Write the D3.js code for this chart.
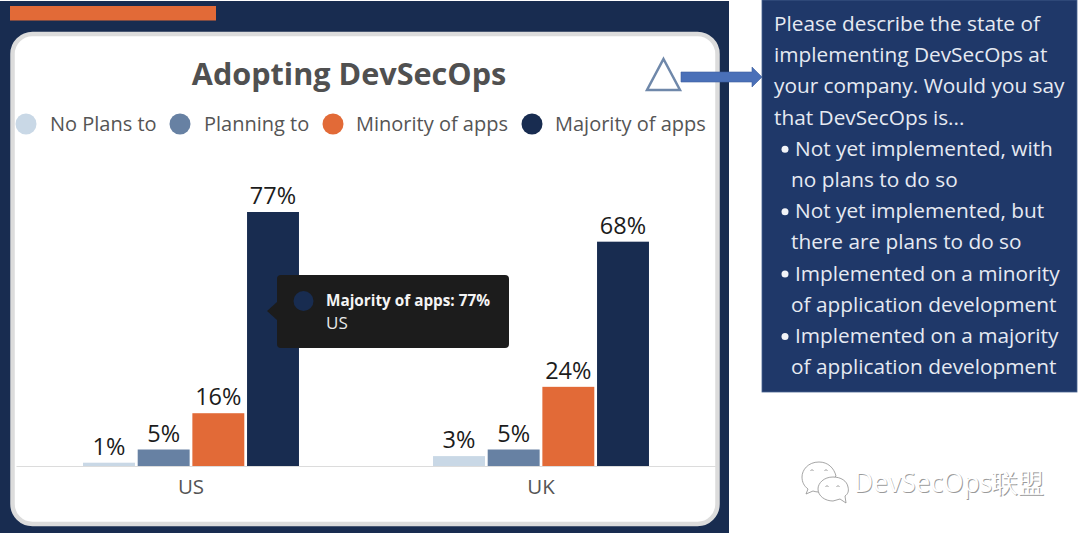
<!DOCTYPE html>
<html lang="en">
<head>
<meta charset="UTF-8">
<title>Adopting DevSecOps</title>
<script src="https://d3js.org/d3.v7.min.js"></script>
<style>
    html, body { margin: 0; padding: 0; background: #fff; }
    svg { display: block; }
    text { font-family: "Open Sans", "Noto Sans", sans-serif; }
</style>
</head>
<body>
<svg id="chart" width="1080" height="533"></svg>
<script>
// data
const regions = ['US', 'UK'];
const seriesNames = ['No Plans to', 'Planning to', 'Minority of apps', 'Majority of apps'];
const seriesColors = ['#c9d8e6', '#6781a3', '#e26a37', '#182c50'];
const usValues = [1, 5, 16, 77];
const ukValues = [3, 5, 24, 68];
const valuesByRegion = { US: usValues, UK: ukValues };

const chartTitle = 'Adopting DevSecOps';
const tooltipTitle = 'Majority of apps: 77%';
const tooltipRegion = 'US';
const panelLines = [
    'Please describe the state of',
    'implementing DevSecOps at',
    'your company. Would you say',
    'that DevSecOps is...',
    '\u2022 Not yet implemented, with',
    ' no plans to do so',
    '\u2022 Not yet implemented, but',
    ' there are plans to do so',
    '\u2022 Implemented on a minority',
    ' of application development',
    '\u2022 Implemented on a majority',
    ' of application development'
];
const watermark = 'DevSecOps联盟';

const svg = d3.select('#chart');
const navy = '#182c50';

// background blocks
svg.append('rect').attr('x', 0).attr('y', 1).attr('width', 729).attr('height', 532).attr('fill', navy);
svg.append('rect').attr('x', 10).attr('y', 6).attr('width', 206).attr('height', 14.5).attr('fill', '#e26a37');
svg.append('rect').attr('x', 12.5).attr('y', 34).attr('width', 705).attr('height', 490).attr('rx', 20)
    .attr('fill', '#fff').attr('stroke', '#dcdcdc').attr('stroke-width', 4.5);

// title
svg.append('text').attr('x', 349).attr('y', 85).attr('text-anchor', 'middle')
    .attr('font-size', 30.6).attr('font-weight', 700).attr('fill', '#505050').text(chartTitle);

// legend
const legendCircleX = [26, 180, 333, 532];
const legendTextX = [50, 204, 356, 555];
const legend = svg.append('g');
seriesNames.forEach((name, i) => {
    legend.append('circle').attr('cx', legendCircleX[i]).attr('cy', 124).attr('r', 10.5).attr('fill', seriesColors[i]);
    legend.append('text').attr('x', legendTextX[i]).attr('y', 131)
        .attr('font-size', 20).attr('fill', '#555').text(name);
});

// scales
const baseY = 466;
const x0 = d3.scaleBand().domain(regions).range([16, 716]).paddingInner(0.383).paddingOuter(0.1915);
const x1 = d3.scaleBand().domain(d3.range(seriesNames.length)).range([0, x0.bandwidth()]).paddingInner(0.05);
const y = d3.scaleLinear().domain([0, 77]).range([baseY, 212]);

// bars + value labels
const groups = svg.selectAll('.region').data(regions).enter().append('g')
    .attr('class', 'region')
    .attr('transform', d => `translate(${x0(d)},0)`);

groups.selectAll('rect')
    .data(d => valuesByRegion[d])
    .enter().append('rect')
    .attr('x', (d, i) => x1(i))
    .attr('y', d => y(d))
    .attr('width', x1.bandwidth())
    .attr('height', d => baseY - y(d))
    .attr('fill', (d, i) => seriesColors[i]);

groups.selectAll('text')
    .data(d => valuesByRegion[d])
    .enter().append('text')
    .attr('x', (d, i) => x1(i) + x1.bandwidth() / 2)
    .attr('y', d => y(d) - 8)
    .attr('text-anchor', 'middle')
    .attr('font-size', 23.5)
    .attr('fill', '#1c1c1c')
    .text(d => d + '%');

// axis
const axis = svg.append('g').attr('transform', `translate(0,${baseY})`)
    .call(d3.axisBottom(x0).tickSize(0).tickPadding(13));
axis.select('.domain').attr('stroke', '#dcdcdc').attr('stroke-width', 1.2);
axis.selectAll('text').attr('font-size', 20.5).attr('fill', '#555')
    .attr('font-family', '"Open Sans", sans-serif');

// tooltip
const tip = svg.append('g');
tip.append('path').attr('d', 'M277 302 L267 311 L277 320 Z').attr('fill', '#1c1c1c');
tip.append('rect').attr('x', 277).attr('y', 275).attr('width', 232).attr('height', 73).attr('rx', 4).attr('fill', '#1c1c1c');
tip.append('circle').attr('cx', 303.5).attr('cy', 301).attr('r', 10).attr('fill', navy);
tip.append('text').attr('x', 326).attr('y', 306).attr('font-size', 16.5).attr('font-weight', 700).attr('fill', '#f4f4f4')
    .attr('textLength', 164).attr('lengthAdjust', 'spacingAndGlyphs')
    .attr('font-family', '"Noto Sans", sans-serif').text(tooltipTitle);
tip.append('text').attr('x', 326).attr('y', 329).attr('font-size', 17).attr('fill', '#e8e8e8')
    .attr('font-family', '"Noto Sans", sans-serif').text(tooltipRegion);

// triangle + arrow
svg.append('path').attr('d', 'M663.5 59 L680 90 L647 90 Z').attr('fill', '#fff').attr('stroke', '#6f88aa').attr('stroke-width', 2.5);
svg.append('path').attr('d', 'M681 72 H752 V67 L762 77 L752 87 V82 H681 Z')
    .attr('fill', '#4a70b8').attr('stroke', '#3d5f9f').attr('stroke-width', 0.6);

// question panel
svg.append('rect').attr('x', 762).attr('y', 0).attr('width', 315).attr('height', 392)
    .attr('fill', '#1f3869').attr('stroke', '#47628f').attr('stroke-width', 0.8);
panelLines.forEach((line, i) => {
    const lineY = 31 + i * 31.2;
    const isBullet = line[0] === '\u2022';
    if (isBullet) {
        svg.append('circle').attr('cx', 785).attr('cy', lineY - 6.5).attr('r', 3.5).attr('fill', '#f2f4f8');
    }
    svg.append('text').attr('x', isBullet ? 795 : (line[0] === ' ' ? 791 : 774)).attr('y', lineY)
        .attr('font-size', 20.8).attr('fill', '#e6eaf2').text(line.replace('\u2022', '').trim());
});

// watermark
const mark = svg.append('g').attr('fill', '#fff').attr('stroke', '#8e8e8e').attr('stroke-width', 0.8);
mark.append('path').attr('d', 'M819 462 C808 462 802 470 802 477 C802 482 804 486 808 489 L806 494 L813 491 C816 492 818 492 821 492 L836 476 C834 468 828 462 819 462 Z');
mark.append('path').attr('d', 'M833 477 C824 477 818 483 818 489 C818 496 825 501 833 501 L840 499 L846 503 L845 496 C848 494 849 491 848 487 C847 481 841 477 833 477 Z');
mark.selectAll('path.eye').data([[812, 470], [826, 470], [827, 486], [838, 486]]).enter().append('path')
    .attr('class', 'eye').attr('fill', 'none').attr('stroke-width', 0.9)
    .attr('d', d => `M${d[0] - 1.5} ${d[1] + 1} Q${d[0]} ${d[1] - 2} ${d[0] + 1.5} ${d[1] + 1}`);
const wmStyle = sel => sel.attr('x', 854).attr('y', 492).attr('font-size', 26.4)
    .attr('font-family', '"DejaVu Sans", "Noto Sans CJK SC", sans-serif').text(watermark);
svg.append('text').call(wmStyle).attr('fill', '#9a9a9a').attr('transform', 'translate(0.8,0.8)');
svg.append('text').call(wmStyle).attr('fill', '#fff');
</script>
</body>
</html>
